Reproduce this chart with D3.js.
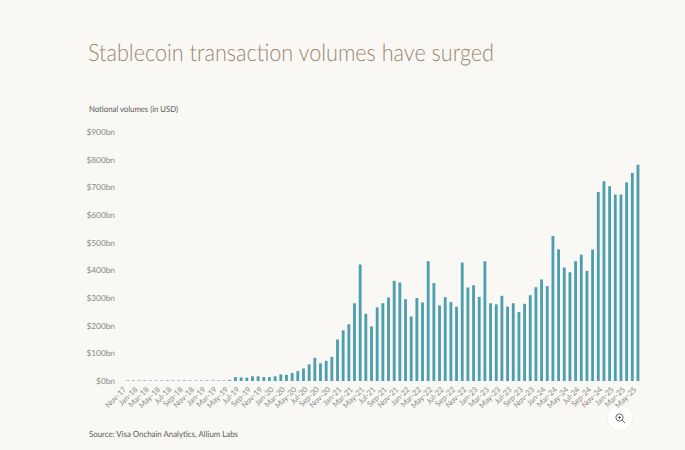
<!DOCTYPE html>
<html>
<head>
<meta charset="utf-8">
<script src="https://cdn.jsdelivr.net/npm/d3@7"></script>
<style>
  html, body { margin: 0; padding: 0; background: #faf8f4; overflow: hidden; }
  svg { opacity: 0.999; }
  text { font-family: "Lato", sans-serif; text-rendering: geometricPrecision; }
  .domain { display: none; }
  .tick line { display: none; }
</style>
</head>
<body>
<div id="chart"></div>
<script>
var width = 685;
var height = 450;

// Nov-17 to May-25, one bar a month
const months = [
  "Nov-17", "Dec-17",
  "Jan-18", "Feb-18", "Mar-18", "Apr-18", "May-18", "Jun-18", "Jul-18", "Aug-18", "Sep-18", "Oct-18", "Nov-18", "Dec-18",
  "Jan-19", "Feb-19", "Mar-19", "Apr-19", "May-19", "Jun-19", "Jul-19", "Aug-19", "Sep-19", "Oct-19", "Nov-19", "Dec-19",
  "Jan-20", "Feb-20", "Mar-20", "Apr-20", "May-20", "Jun-20", "Jul-20", "Aug-20", "Sep-20", "Oct-20", "Nov-20", "Dec-20",
  "Jan-21", "Feb-21", "Mar-21", "Apr-21", "May-21", "Jun-21", "Jul-21", "Aug-21", "Sep-21", "Oct-21", "Nov-21", "Dec-21",
  "Jan-22", "Feb-22", "Mar-22", "Apr-22", "May-22", "Jun-22", "Jul-22", "Aug-22", "Sep-22", "Oct-22", "Nov-22", "Dec-22",
  "Jan-23", "Feb-23", "Mar-23", "Apr-23", "May-23", "Jun-23", "Jul-23", "Aug-23", "Sep-23", "Oct-23", "Nov-23", "Dec-23",
  "Jan-24", "Feb-24", "Mar-24", "Apr-24", "May-24", "Jun-24", "Jul-24", "Aug-24", "Sep-24", "Oct-24", "Nov-24", "Dec-24",
  "Jan-25", "Feb-25", "Mar-25", "Apr-25", "May-25"
];

// notional volume, $bn
const volumes = [
  2, 2, 2, 2, 2, 2, 2, 2, 2, 2, 2, 2, 2, 2, 2, 2, 2, 2,
  4, 14, 13, 12, 17, 17, 14, 14, 17, 24, 22, 29, 36, 45,
  60, 84, 64, 73, 87, 150, 183, 205, 281, 421, 243, 197,
  266, 281, 302, 362, 356, 296, 233, 300, 284, 433, 354,
  273, 303, 285, 268, 428, 338, 346, 304, 433, 281, 277,
  308, 269, 281, 249, 279, 310, 339, 367, 343, 524, 476,
  410, 393, 433, 457, 398, 475, 683, 722, 704, 674, 674,
  718, 752, 782
];

const xLabels = months.filter((d, i) => i % 2 === 0);
const yTicks = [0, 100, 200, 300, 400, 500, 600, 700, 800, 900];

const titleText = "Stablecoin transaction volumes have surged";
const subtitleText = "Notional volumes (in USD)";
const sourceText = "Source: Visa Onchain Analytics, Allium Labs";

var svg = d3.select("#chart")
  .append("svg")
  .attr("width", width)
  .attr("height", height)
  .style("display", "block");

var x = d3.scaleBand()
  .domain(months)
  .range([124.9, 640.8])
  .paddingInner(0.5)
  .paddingOuter(0.25);

var y = d3.scaleLinear()
  .domain([0, 900])
  .range([381, 132]);

svg.selectAll("rect.bar")
  .data(volumes)
  .enter()
  .append("rect")
  .attr("class", "bar")
  .attr("x", (d, i) => x(months[i]))
  .attr("y", d => y(d))
  .attr("width", x.bandwidth())
  .attr("height", d => y(0) - y(d))
  .attr("fill", "#4c9fae");

var yAxis = svg.append("g")
  .attr("transform", "translate(118,0)")
  .call(d3.axisLeft(y).tickValues(yTicks).tickSize(0).tickFormat(d => "$" + d + "bn"));
yAxis.selectAll("text")
  .attr("fill", "#8a8a8a")
  .style("font-size", "8.3px");

// zoom button, under the month labels
var btn = svg.append("g").attr("transform", "translate(620,418)");
btn.append("circle").attr("r", 13).attr("fill", "#fff").attr("stroke", "#f3f1ed");
btn.append("circle").attr("cx", -0.5).attr("cy", -0.5).attr("r", 3.6).attr("fill", "none").attr("stroke", "#555").attr("stroke-width", 0.9);
btn.append("path").attr("d", "M2.2,2.2L5,5M-2,-0.5H1M-0.5,-2V1").attr("stroke", "#555").attr("stroke-width", 0.9).attr("fill", "none");

var xAxis = svg.append("g")
  .attr("transform", "translate(0,381)")
  .call(d3.axisBottom(x).tickValues(xLabels).tickSize(0));
xAxis.selectAll("text")
  .attr("fill", "#8a8a8a")
  .style("font-size", "7.7px")
  .style("text-anchor", "end")
  .attr("dy", 0)
  .attr("y", 0)
  .attr("transform", "translate(-1,9) rotate(-45)");

svg.append("text")
  .attr("x", 88)
  .attr("y", 61)
  .attr("fill", "#9a8670")
  .attr("textLength", 406)
  .attr("lengthAdjust", "spacingAndGlyphs")
  .style("font-size", "24px")
  .style("font-weight", 300)
  .text(titleText);

svg.append("text")
  .attr("x", 89)
  .attr("y", 112)
  .attr("fill", "#5a5a5a")
  .attr("textLength", 89)
  .attr("lengthAdjust", "spacingAndGlyphs")
  .style("font-size", "8.5px")
  .text(subtitleText);

svg.append("text")
  .attr("x", 89)
  .attr("y", 437)
  .attr("fill", "#5a5a5a")
  .attr("textLength", 149)
  .attr("lengthAdjust", "spacingAndGlyphs")
  .style("font-size", "8.5px")
  .text(sourceText);
</script>
</body>
</html>
